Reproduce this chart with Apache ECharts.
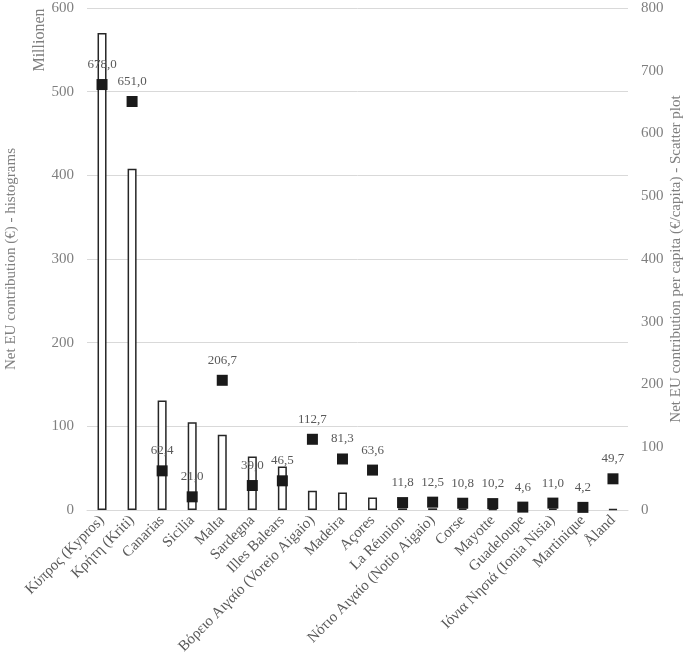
<!DOCTYPE html>
<html>
<head>
<meta charset="utf-8">
<script src="https://cdn.jsdelivr.net/npm/echarts@6/dist/echarts.min.js"></script>
<style>
html,body{margin:0;padding:0;background:#fff;}
#chart{width:685px;height:661px;}
</style>
</head>
<body>
<div id="chart"></div>
<script>
const categories = ["Κύπρος (Kypros)","Κρήτη (Kriti)","Canarias","Sicilia","Malta","Sardegna","Illes Balears","Βόρειο Αιγαίο (Voreio Aigaio)","Madeira","Açores","La Réunion","Νότιο Αιγαίο (Notio Aigaio)","Corse","Mayotte","Guadeloupe","Ιόνια Νησιά (Ionia Nisia)","Martinique","Åland"];
const netContribution = [570, 408, 131, 105, 90, 64, 52, 23, 21, 15, 2, 2, 1.5, 1, 0.8, 1.5, 0.8, 1];
const perCapita = [678.0, 651.0, 62.4, 21.0, 206.7, 39.0, 46.5, 112.7, 81.3, 63.6, 11.8, 12.5, 10.8, 10.2, 4.6, 11.0, 4.2, 49.7];
const leftTicks = {min: 0, max: 600, interval: 100};
const rightTicks = {min: 0, max: 800, interval: 100};
const rightAxisTitle = 'Net EU contribution per capita (€/capita) - Scatter plot';

const FONT = "Liberation Serif";
const chart = echarts.init(document.getElementById('chart'));
chart.setOption({
  backgroundColor: '#fff',
  animation: false,
  textStyle: {fontFamily: FONT},
  grid: {left: 87, right: 57, top: 8, bottom: 151, containLabel: false, outerBoundsMode: 'none'},
  graphic: [{
    type: 'text', x: 40, y: 40, rotation: Math.PI / 2,
    style: {text: 'Millionen', fill: '#7f7f7f', font: '16px "Liberation Serif"', align: 'center', verticalAlign: 'middle'}
  }, {
    type: 'text', x: 676, y: 259, rotation: Math.PI / 2,
    style: {text: rightAxisTitle, fill: '#7f7f7f', font: '15px "Liberation Serif"', align: 'center', verticalAlign: 'middle'}
  }],
  xAxis: {
    type: 'category', data: categories,
    axisLine: {lineStyle: {color: '#d9d9d9', width: 1}},
    axisTick: {show: false},
    axisLabel: {rotate: 45, color: '#595959', fontSize: 15, fontFamily: FONT, margin: 8, interval: 0}
  },
  yAxis: [{
    type: 'value', min: leftTicks.min, max: leftTicks.max, interval: leftTicks.interval,
    name: 'Net EU contribution (€) - histograms', nameLocation: 'middle', nameGap: 68,
    nameTextStyle: {color: '#7f7f7f', fontSize: 15, fontFamily: FONT},
    axisLine: {show: false}, axisTick: {show: false},
    axisLabel: {color: '#7f7f7f', fontSize: 15, fontFamily: FONT, margin: 13},
    splitLine: {lineStyle: {color: '#d9d9d9', width: 1}}
  }, {
    type: 'value', min: rightTicks.min, max: rightTicks.max, interval: rightTicks.interval,
    axisLine: {show: false}, axisTick: {show: false},
    axisLabel: {color: '#7f7f7f', fontSize: 15, fontFamily: FONT, margin: 13},
    splitLine: {show: false}
  }],
  series: [{
    type: 'bar', yAxisIndex: 0, data: netContribution, barWidth: 9,
    itemStyle: {color: '#ffffff', borderColor: '#262626', borderWidth: 1.5},
    z: 2
  }, {
    type: 'scatter', yAxisIndex: 1, data: perCapita, symbol: 'rect', symbolSize: 11,
    itemStyle: {color: '#1a1a1a', opacity: 1},
    label: {
      show: true, position: 'top', distance: 8, color: '#595959', fontSize: 13, fontFamily: FONT,
      formatter: p => p.value.toFixed(1).replace('.', ',')
    },
    z: 3
  }]
});
</script>
</body>
</html>
